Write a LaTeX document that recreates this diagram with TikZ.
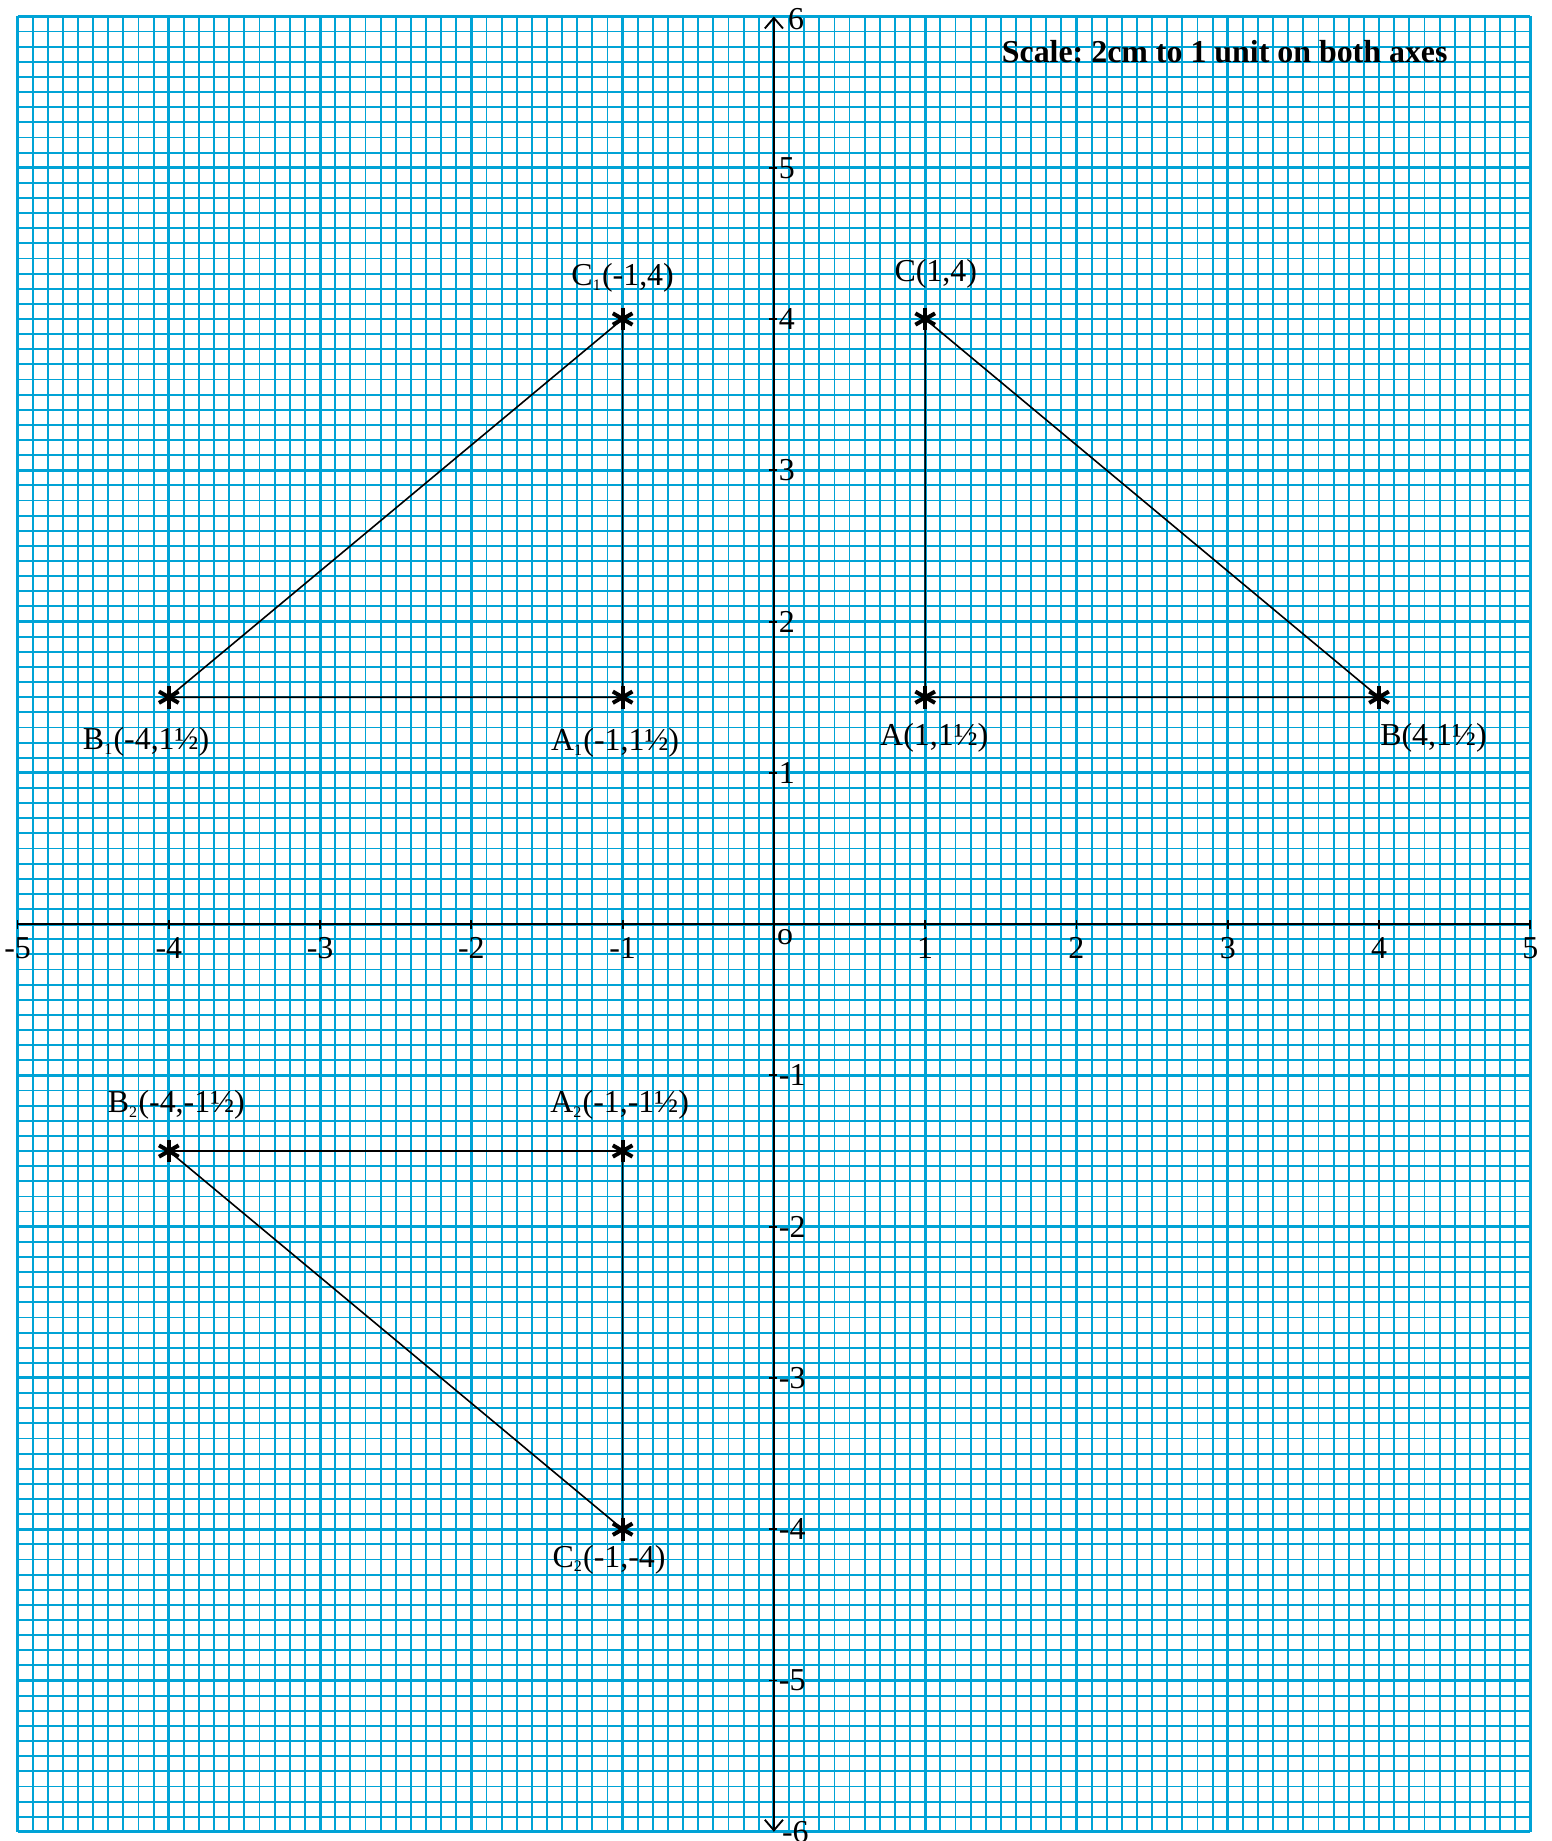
\documentclass[tikz,border=0pt]{standalone}
\usepackage{fontspec}
\setmainfont{Liberation Serif}
\usetikzlibrary{arrows.meta}
\definecolor{graphblue}{RGB}{0,163,214}
\frenchspacing
\newcommand{\sub}[1]{\textsubscript{\fontsize{6}{6}\selectfont #1}}
\tikzset{
  minorgrid/.style={graphblue,line width=0.7pt},
  majorgrid/.style={graphblue,line width=1.1pt},
  axisline/.style={black,line width=0.7pt},
  side/.style={black,line width=0.6pt},
  starline/.style={black,line width=1.5pt},
  lab/.style={font=\fontsize{12}{14}\selectfont,inner sep=0pt},
  num/.style={font=\fontsize{12}{14}\selectfont,inner sep=0pt},
}

\begin{document}
\begin{tikzpicture}[x=2cm,y=2cm]
\useasboundingbox (-5.116,-6.061) rectangle (5.139,6.109);
% graph paper
\draw[minorgrid] (-5,-6) grid[step=0.1] (5,6);
\draw[majorgrid] (-5,-6) grid[step=1] (5,6);
% axes
\coordinate (xl) at (-5,0);
\coordinate (xr) at (5,0);
\coordinate (yb) at (0,-6);
\coordinate (yt) at (0,6);
\draw[axisline] (xl) -- (xr);
\draw[axisline,{Straight Barb[length=1.4mm,width=2.4mm]}-{Straight Barb[length=1.4mm,width=2.4mm]}] (yb) -- (yt);
\foreach \x [count=\i] in {-5,-4,-3,-2,-1,1,2,3,4,5} {
  \draw[axisline] (\x,-0.03) -- (\x,0.03);
  \node[num] (xn\i) at (\x,-0.16) {\x};
}
\foreach \y [count=\i] in {-5,-4,-3,-2,-1,1,2,3,4,5} {
  \draw[axisline] (-0.03,\y) -- (0.02,\y);
  \node[num,anchor=west] (yn\i) at (0.03,\y) {\y};
}
\node[num,anchor=west] (ytop) at (0.09,5.98) {6};
\node[num,anchor=west] (ybot) at (0.05,-6.0) {-6};
\node[num] (o) at (0.074,-0.085) {o};
% the three triangles
\coordinate (A) at (1,1.5);
\coordinate (B) at (4,1.5);
\coordinate (C) at (1,4);
\coordinate (A1) at (-1,1.5);
\coordinate (B1) at (-4,1.5);
\coordinate (C1) at (-1,4);
\coordinate (A2) at (-1,-1.5);
\coordinate (B2) at (-4,-1.5);
\coordinate (C2) at (-1,-4);
\draw[side] (A) -- (B) -- (C) -- (A);
\draw[side] (A1) -- (B1) -- (C1) -- (A1);
\draw[side] (A2) -- (B2) -- (C2) -- (A2);
\foreach \p in {A,B,C,A1,B1,C1,A2,B2,C2}
  \foreach \a in {90,30,150}
    \draw[starline] (\p) ++(\a:0.075) -- ++(\a+180:0.15);
% labels
\node[lab] (lA) at (1.06,1.23) {A(1,1½)};
\node[lab] (lB) at (4.36,1.23) {B(4,1½)};
\node[lab] (lC) at (1.07,4.30) {C(1,4)};
\node[lab] (lA1) at (-1.05,1.20) {A\sub{1}(-1,1½)};
\node[lab] (lB1) at (-4.15,1.205) {B\sub{1}(-4,1½)};
\node[lab] (lC1) at (-1.0,4.27) {C\sub{1}(-1,4)};
\node[lab] (lA2) at (-1.02,-1.195) {A\sub{2}(-1,-1½)};
\node[lab] (lB2) at (-3.95,-1.195) {B\sub{2}(-4,-1½)};
\node[lab] (lC2) at (-1.09,-4.2) {C\sub{2}(-1,-4)};
\node[font=\bfseries\fontsize{12}{14}\selectfont,inner sep=0pt] (scale) at (2.98,5.77) {Scale: 2cm to 1 unit on both axes};
\end{tikzpicture}
\end{document}
